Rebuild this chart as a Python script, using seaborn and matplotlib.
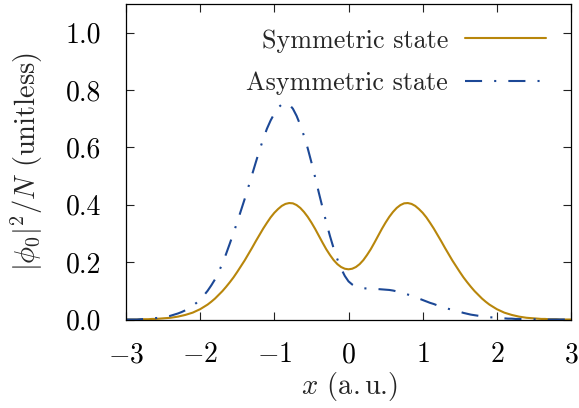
import numpy as np
import pandas as pd
import matplotlib
matplotlib.use("Agg")
import matplotlib.pyplot as plt
import seaborn as sns

# Sampled densities |phi_0|^2/N on a grid from -3 to 3 (step 0.05)
x_grid = [round(-3.0 + 0.05 * i, 2) for i in range(121)]

# symmetric state, right half (x = 0.00 ... 3.00); the left half mirrors it
symmetric_right = [
    0.175, 0.177, 0.183, 0.193, 0.207, 0.225, 0.245, 0.268, 0.292, 0.316,
    0.338, 0.358, 0.375, 0.389, 0.399, 0.405, 0.406, 0.403, 0.396, 0.385,
    0.372, 0.356, 0.337, 0.317, 0.295, 0.273, 0.250, 0.228, 0.206, 0.186,
    0.166, 0.147, 0.130, 0.114, 0.099, 0.086, 0.073, 0.062, 0.052, 0.044,
    0.036, 0.030, 0.024, 0.020, 0.016, 0.013, 0.010, 0.008, 0.006, 0.005,
    0.004, 0.003, 0.002, 0.002, 0.001, 0.001, 0.001, 0.000, 0.000, 0.000,
    0.000,
]
symmetric = symmetric_right[:0:-1] + symmetric_right

# asymmetric state, x = -3.00 ... 3.00
asymmetric = [
    0.000, 0.000, 0.000, 0.000, 0.001, 0.002, 0.003, 0.004, 0.005, 0.006,
    0.008, 0.010, 0.013, 0.017, 0.021, 0.026, 0.032, 0.040, 0.048, 0.058,
    0.070, 0.084, 0.100, 0.119, 0.140, 0.166, 0.195, 0.229, 0.265, 0.302,
    0.340, 0.380, 0.420, 0.462, 0.505, 0.548, 0.590, 0.629, 0.665, 0.694,
    0.718, 0.738, 0.750, 0.755, 0.750, 0.735, 0.710, 0.678, 0.640, 0.597,
    0.548, 0.496, 0.442, 0.390, 0.339, 0.291, 0.248, 0.210, 0.178, 0.152,
    0.133, 0.122, 0.115, 0.111, 0.109, 0.108, 0.107, 0.107, 0.106, 0.105,
    0.104, 0.103, 0.101, 0.098, 0.095, 0.091, 0.087, 0.083, 0.078, 0.073,
    0.068, 0.063, 0.058, 0.054, 0.049, 0.045, 0.041, 0.037, 0.034, 0.030,
    0.027, 0.023, 0.020, 0.017, 0.015, 0.013, 0.011, 0.009, 0.008, 0.007,
    0.006, 0.005, 0.004, 0.003, 0.003, 0.002, 0.002, 0.001, 0.001, 0.001,
    0.001, 0.000, 0.000, 0.000, 0.000, 0.000, 0.000, 0.000, 0.000, 0.000,
    0.000,
]

labels = ["Symmetric state", "Asymmetric state"]
colors = {"Symmetric state": "#b8860b", "Asymmetric state": "#1c4896"}
dashes = {"Symmetric state": "", "Asymmetric state": (8.2, 5.8, 1.0, 5.8)}

df = pd.concat([
    pd.DataFrame({"x": x_grid, "density": symmetric, "state": labels[0]}),
    pd.DataFrame({"x": x_grid, "density": asymmetric, "state": labels[1]}),
])

sns.set_theme(style="ticks")
plt.rcParams.update({
    "font.family": "serif",
    "font.serif": ["cmr10"],
    "mathtext.fontset": "cm",
    "axes.formatter.use_mathtext": True,
    "axes.unicode_minus": True,
    "axes.linewidth": 0.9,
    "axes.edgecolor": "black",
    "xtick.color": "#222222",
    "ytick.color": "#222222",
    "xtick.labelcolor": "black",
    "ytick.labelcolor": "black",
    "xtick.direction": "in",
    "ytick.direction": "in",
    "xtick.major.size": 5.8,
    "ytick.major.size": 5.8,
    "xtick.major.width": 0.8,
    "ytick.major.width": 0.8,
    "xtick.top": True,
    "ytick.right": True,
})

fig = plt.figure(figsize=(5.79, 4.08), dpi=100)
ax = fig.add_axes([126 / 579, 88.5 / 408, 445 / 579, 315.5 / 408])

sns.lineplot(data=df, x="x", y="density", hue="state", style="state",
             hue_order=labels, style_order=labels, palette=colors,
             dashes=dashes, linewidth=1.5, ax=ax, legend=False)

for ln, lab in zip(ax.lines, labels):
    ln.set_label(lab)

ax.set_xlim(-3, 3)
ax.set_ylim(0, 1.1)
ax.set_xticks([-3, -2, -1, 0, 1, 2, 3])
ax.set_yticks([0.0, 0.2, 0.4, 0.6, 0.8, 1.0])
ax.yaxis.set_major_formatter(matplotlib.ticker.FormatStrFormatter("%.1f"))
ax.tick_params(axis="x", labelsize=20, pad=16)
ax.tick_params(axis="y", labelsize=20, pad=18)
for s in ax.spines.values():
    s.set_visible(True)

ax.set_xlabel(r"$x$ (a.$\,$u.)", fontsize=20.5)
ax.set_ylabel(r"$|\phi_0|^2/N$ (unitless)", fontsize=20.5)
ax.xaxis.set_label_coords(0.502, -0.160)
ax.yaxis.set_label_coords(-0.223, 0.5)
ax.yaxis.label.set_verticalalignment("center")

ax.legend(loc="upper right", frameon=False, markerfirst=False,
          handlelength=3.1, fontsize=18.8, labelspacing=0.72,
          borderaxespad=0.55, handletextpad=0.66)

fig.savefig("out.png", dpi=100)
